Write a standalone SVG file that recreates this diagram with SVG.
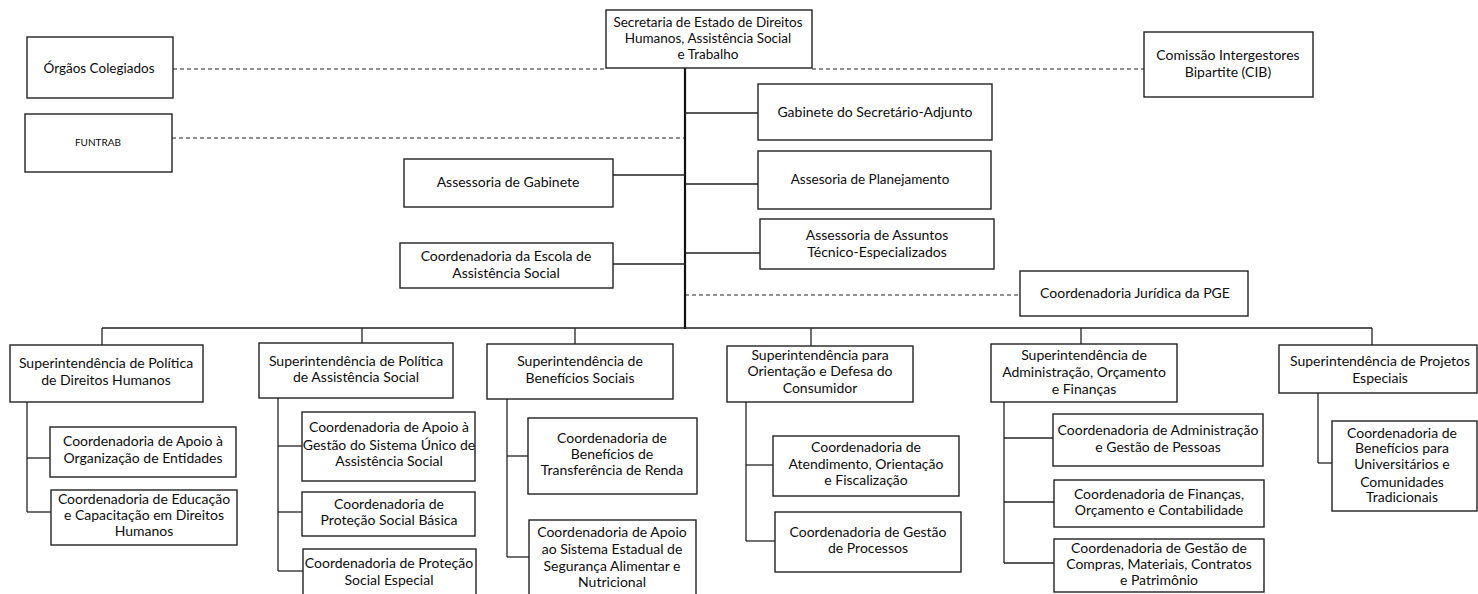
<svg xmlns="http://www.w3.org/2000/svg" width="1478" height="594" viewBox="0 0 1478 594" xml:space="preserve">
<style>
.n rect{fill:#fff;stroke:#222;stroke-width:1.4}
text{font-family:Lato,"Liberation Sans",sans-serif;font-size:14px;fill:#0d0d0d;text-anchor:middle}
.c line{stroke:#222;stroke-width:1.3;fill:none}
.c .d{stroke-dasharray:4 3;stroke-width:1.1}
.c .t{stroke-width:2.2;stroke:#111}
</style>
<rect width="1478" height="594" fill="#fff"/>
<g class="c" id="connectors"><line class="d" x1="173" y1="69" x2="606" y2="69"/><line class="d" x1="812" y1="69" x2="1144" y2="69"/><line class="d" x1="172" y1="138" x2="685" y2="138"/><line class="d" x1="685" y1="295" x2="1020" y2="295"/><line class="t" x1="685" y1="68" x2="685" y2="329"/><line x1="685" y1="113" x2="758" y2="113"/><line x1="685" y1="184" x2="758" y2="184"/><line x1="685" y1="253" x2="760" y2="253"/><line x1="613" y1="175" x2="685" y2="175"/><line x1="613" y1="264" x2="685" y2="264"/><line x1="102" y1="328" x2="1372" y2="328"/><line x1="102" y1="328" x2="102" y2="345"/><line x1="362" y1="328" x2="362" y2="343"/><line x1="575" y1="328" x2="575" y2="344"/><line x1="811" y1="328" x2="811" y2="346"/><line x1="1081" y1="328" x2="1081" y2="344"/><line x1="1372" y1="328" x2="1372" y2="345"/><line x1="27" y1="402" x2="27" y2="512"/><line x1="27" y1="458" x2="50" y2="458"/><line x1="27" y1="512" x2="51" y2="512"/><line x1="278" y1="398" x2="278" y2="571"/><line x1="278" y1="446" x2="302" y2="446"/><line x1="278" y1="512" x2="302" y2="512"/><line x1="278" y1="571" x2="303" y2="571"/><line x1="507" y1="399" x2="507" y2="557"/><line x1="507" y1="456" x2="528" y2="456"/><line x1="507" y1="557" x2="529" y2="557"/><line x1="746" y1="402" x2="746" y2="541"/><line x1="746" y1="465" x2="773" y2="465"/><line x1="746" y1="541" x2="775" y2="541"/><line x1="1004" y1="402" x2="1004" y2="563"/><line x1="1004" y1="438" x2="1053" y2="438"/><line x1="1004" y1="502" x2="1054" y2="502"/><line x1="1004" y1="563" x2="1054" y2="563"/><line x1="1318" y1="393" x2="1318" y2="463"/><line x1="1318" y1="463" x2="1332" y2="463"/></g>
<g class="n" id="secretaria"><rect x="606" y="10" width="206" height="58"/><text style="font-size:13.5px"><tspan x="708" y="27">Secretaria de Estado de Direitos</tspan><tspan x="708" y="43">Humanos, Assistência Social</tspan><tspan x="708" y="59">e Trabalho</tspan></text></g>
<g class="n" id="orgaos"><rect x="27" y="37" width="146" height="61"/><text x="99" y="73" style="font-size:13.5px">Órgãos Colegiados</text></g>
<g class="n" id="funtrab"><rect x="25" y="114" width="147" height="58"/><text x="98" y="146" style="font-size:10px">FUNTRAB</text></g>
<g class="n" id="cib"><rect x="1144" y="32" width="169" height="65"/><text><tspan x="1228" y="60">Comissão Intergestores</tspan><tspan x="1228" y="77">Bipartite (CIB)</tspan></text></g>
<g class="n" id="gab-adjunto"><rect x="758" y="84" width="234" height="56"/><text x="875" y="117">Gabinete do  Secretário-Adjunto</text></g>
<g class="n" id="planejamento"><rect x="758" y="151" width="233" height="58"/><text x="870" y="184" style="font-size:13.5px">Assesoria de Planejamento</text></g>
<g class="n" id="ass-gabinete"><rect x="404" y="159" width="209" height="48"/><text x="508" y="187">Assessoria de Gabinete</text></g>
<g class="n" id="ass-tecnicos"><rect x="760" y="219" width="234" height="50"/><text><tspan x="877" y="240">Assessoria de Assuntos</tspan><tspan x="877" y="257">Técnico-Especializados</tspan></text></g>
<g class="n" id="escola"><rect x="400" y="243" width="213" height="45"/><text><tspan x="506" y="261">Coordenadoria da Escola de</tspan><tspan x="506" y="278">Assistência Social</tspan></text></g>
<g class="n" id="juridica"><rect x="1020" y="271" width="228" height="45"/><text x="1135" y="298">Coordenadoria  Jurídica da PGE</text></g>
<g class="n" id="sup-dh"><rect x="10" y="345" width="193" height="57"/><text><tspan x="106" y="368">Superintendência de Política</tspan><tspan x="106" y="385">de Direitos Humanos</tspan></text></g>
<g class="n" id="sup-as"><rect x="259" y="343" width="194" height="55"/><text><tspan x="356" y="366">Superintendência de Política</tspan><tspan x="356" y="382">de Assistência Social</tspan></text></g>
<g class="n" id="sup-bs"><rect x="487" y="344" width="186" height="55"/><text><tspan x="580" y="366">Superintendência de</tspan><tspan x="580" y="383">Benefícios Sociais</tspan></text></g>
<g class="n" id="sup-or"><rect x="727" y="346" width="186" height="56"/><text><tspan x="820" y="360">Superintendência para</tspan><tspan x="820" y="376">Orientação e Defesa do</tspan><tspan x="820" y="393">Consumidor</tspan></text></g>
<g class="n" id="sup-ad"><rect x="991" y="344" width="186" height="58"/><text><tspan x="1084" y="360">Superintendência de</tspan><tspan x="1084" y="377">Administração, Orçamento</tspan><tspan x="1084" y="394">e  Finanças</tspan></text></g>
<g class="n" id="sup-pr"><rect x="1279" y="345" width="198" height="48"/><text><tspan x="1380" y="366">Superintendência de  Projetos</tspan><tspan x="1380" y="383">Especiais</tspan></text></g>
<g class="n" id="dh-1"><rect x="50" y="427" width="186" height="50"/><text><tspan x="143" y="446">Coordenadoria de Apoio à</tspan><tspan x="143" y="463">Organização de Entidades</tspan></text></g>
<g class="n" id="dh-2"><rect x="51" y="490" width="186" height="55"/><text><tspan x="144" y="504">Coordenadoria de Educação</tspan><tspan x="144" y="520">e Capacitação em Direitos</tspan><tspan x="144" y="536">Humanos</tspan></text></g>
<g class="n" id="as-1"><rect x="302" y="412" width="173" height="69"/><text><tspan x="389" y="432">Coordenadoria de Apoio à</tspan><tspan x="389" y="450">Gestão do Sistema Único de</tspan><tspan x="389" y="466">Assistência Social</tspan></text></g>
<g class="n" id="as-2"><rect x="302" y="492" width="173" height="44"/><text><tspan x="389" y="509">Coordenadoria de</tspan><tspan x="389" y="525">Proteção Social Básica</tspan></text></g>
<g class="n" id="as-3"><rect x="303" y="549" width="173" height="60"/><text><tspan x="389" y="568">Coordenadoria de Proteção</tspan><tspan x="389" y="585">Social  Especial</tspan></text></g>
<g class="n" id="bs-1"><rect x="528" y="418" width="169" height="76"/><text><tspan x="612" y="443">Coordenadoria de</tspan><tspan x="612" y="459">Benefícios de</tspan><tspan x="612" y="475">Transferência de Renda</tspan></text></g>
<g class="n" id="bs-2"><rect x="529" y="520" width="167" height="80"/><text><tspan x="612" y="537">Coordenadoria de Apoio</tspan><tspan x="612" y="554">ao Sistema Estadual de</tspan><tspan x="612" y="571">Segurança Alimentar e</tspan><tspan x="612" y="587">Nutricional</tspan></text></g>
<g class="n" id="or-1"><rect x="773" y="436" width="186" height="60"/><text><tspan x="866" y="452">Coordenadoria de</tspan><tspan x="866" y="469">Atendimento, Orientação</tspan><tspan x="866" y="485">e Fiscalização</tspan></text></g>
<g class="n" id="or-2"><rect x="775" y="512" width="186" height="60"/><text><tspan x="868" y="537">Coordenadoria de Gestão</tspan><tspan x="868" y="553">de Processos</tspan></text></g>
<g class="n" id="ad-1"><rect x="1053" y="414" width="210" height="52"/><text><tspan x="1158" y="435">Coordenadoria de Administração</tspan><tspan x="1158" y="452">e  Gestão de Pessoas</tspan></text></g>
<g class="n" id="ad-2"><rect x="1054" y="480" width="210" height="47"/><text><tspan x="1159" y="499">Coordenadoria de Finanças,</tspan><tspan x="1159" y="515">Orçamento e Contabilidade</tspan></text></g>
<g class="n" id="ad-3"><rect x="1054" y="539" width="210" height="53"/><text><tspan x="1159" y="553">Coordenadoria de Gestão de</tspan><tspan x="1159" y="569">Compras, Materiais, Contratos</tspan><tspan x="1159" y="585">e Patrimônio</tspan></text></g>
<g class="n" id="pr-1"><rect x="1332" y="421" width="145" height="90"/><text><tspan x="1402" y="438">Coordenadoria  de</tspan><tspan x="1402" y="453">Benefícios para</tspan><tspan x="1402" y="469">Universitários e</tspan><tspan x="1402" y="487">Comunidades</tspan><tspan x="1402" y="502">Tradicionais</tspan></text></g>
</svg>
